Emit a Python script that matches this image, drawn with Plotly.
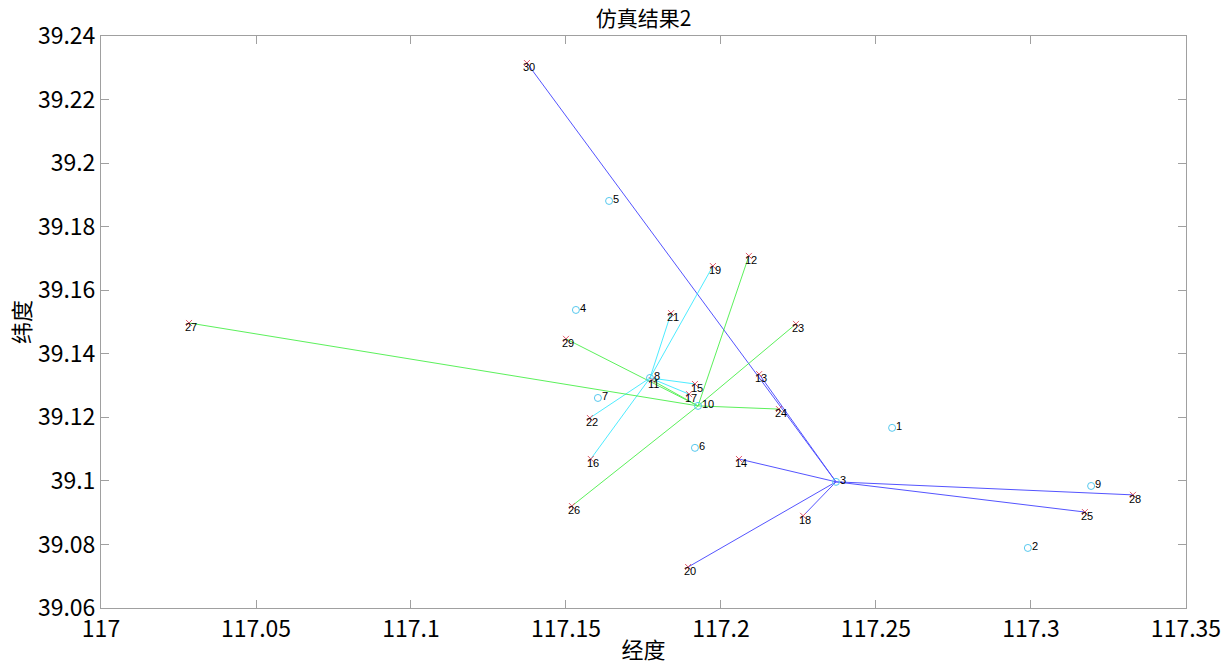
import plotly.graph_objects as go

# Centres (circles), ids 1..10
center_ids = [1, 2, 3, 4, 5, 6, 7, 8, 9, 10]
center_lon = [117.2552, 117.2990, 117.2371, 117.1532, 117.1639, 117.1916, 117.1603, 117.1771, 117.3194, 117.1926]
center_lat = [39.1167, 39.0789, 39.0997, 39.1538, 39.1881, 39.1104, 39.1261, 39.1324, 39.0984, 39.1236]

# Demand points (crosses), ids 11..30
point_ids = list(range(11, 31))
point_lon = [117.1777, 117.2090, 117.2123, 117.2058, 117.1916, 117.1580, 117.1897, 117.2265, 117.1974, 117.1894,
             117.1839, 117.1577, 117.2242, 117.2187, 117.3174, 117.1519, 117.0284, 117.3329, 117.1500, 117.1374]
point_lat = [39.1317, 39.1708, 39.1336, 39.1069, 39.1305, 39.1069, 39.1273, 39.0890, 39.1676, 39.0729,
             39.1528, 39.1198, 39.1494, 39.1226, 39.0902, 39.0921, 39.1497, 39.0956, 39.1447, 39.2315]
# centre each point is assigned to
assign = [10, 10, 3, 3, 8, 8, 8, 3, 8, 3,
          8, 8, 10, 10, 3, 10, 10, 3, 10, 3]

center_colors = {3: "#2a2aff", 8: "#22e8ff", 10: "#33ee33"}

x_ticks = [117, 117.05, 117.1, 117.15, 117.2, 117.25, 117.3, 117.35]
x_ticktext = ["117", "117.05", "117.1", "117.15", "117.2", "117.25", "117.3", "117.35"]
y_ticks = [39.06, 39.08, 39.1, 39.12, 39.14, 39.16, 39.18, 39.2, 39.22, 39.24]
y_ticktext = ["39.06", "39.08", "39.1", "39.12", "39.14", "39.16", "39.18", "39.2", "39.22", "39.24"]

fig = go.Figure()

# connection lines grouped by centre
for c, col in center_colors.items():
    xs, ys = [], []
    ci = center_ids.index(c)
    for lon, lat, a in zip(point_lon, point_lat, assign):
        if a == c:
            xs += [center_lon[ci], lon, None]
            ys += [center_lat[ci], lat, None]
    fig.add_trace(go.Scatter(x=xs, y=ys, mode="lines",
                             line=dict(color=col, width=1), opacity=0.8,
                             hoverinfo="skip", showlegend=False))

fig.add_trace(go.Scatter(x=center_lon, y=center_lat, mode="markers",
                         marker=dict(symbol="circle-open", size=7, color="#55c8ee", line=dict(width=1)),
                         showlegend=False))
fig.add_trace(go.Scatter(x=point_lon, y=point_lat, mode="markers",
                         marker=dict(symbol="x-thin-open", size=6, color="#e05a6a", line=dict(width=1)),
                         showlegend=False))

annotations = []
for i, lon, lat in zip(center_ids, center_lon, center_lat):
    annotations.append(dict(x=lon, y=lat, text=str(i), showarrow=False, xanchor="left", yanchor="middle",
                            xshift=2, yshift=2, font=dict(size=11, color="black", family="Liberation Sans")))
for i, lon, lat in zip(point_ids, point_lon, point_lat):
    annotations.append(dict(x=lon, y=lat, text=str(i), showarrow=False, xanchor="center", yanchor="middle",
                            xshift=2, yshift=-4, font=dict(size=11, color="black", family="Liberation Sans")))

axis_common = dict(showgrid=False, zeroline=False, showline=True, linecolor="#a0a0a0", linewidth=1,
                   mirror="ticks", ticks="inside", ticklen=8, tickcolor="#a0a0a0", automargin=False,
                   ticklabeloverflow="allow",
                   tickfont=dict(size=23, color="black", family="Noto Sans CJK SC"))

fig.update_layout(
    width=1221, height=672,
    margin=dict(l=101, r=35, t=36, b=64, autoexpand=False),
    paper_bgcolor="white", plot_bgcolor="white",
    title=dict(text="仿真结果2", x=0.5, xref="paper", xanchor="center", yref="container", y=1 - 19 / 672,
               yanchor="middle",
               font=dict(size=21, color="black", family="Noto Sans CJK SC"), automargin=False),
    xaxis=dict(range=[117, 117.35001], tickvals=x_ticks, ticktext=x_ticktext,
               title=dict(text="经度", standoff=0, font=dict(size=22, color="black", family="Noto Sans CJK SC")),
               **axis_common),
    yaxis=dict(range=[39.06, 39.24001], tickvals=y_ticks, ticktext=y_ticktext,
               title=dict(text="纬度", standoff=1, font=dict(size=22, color="black", family="Noto Sans CJK SC")),
               **axis_common),
    annotations=annotations,
)

fig.write_html("out.html", config={"displayModeBar": False},
               post_script="document.body.style.margin='0';document.body.style.overflow='hidden';")
